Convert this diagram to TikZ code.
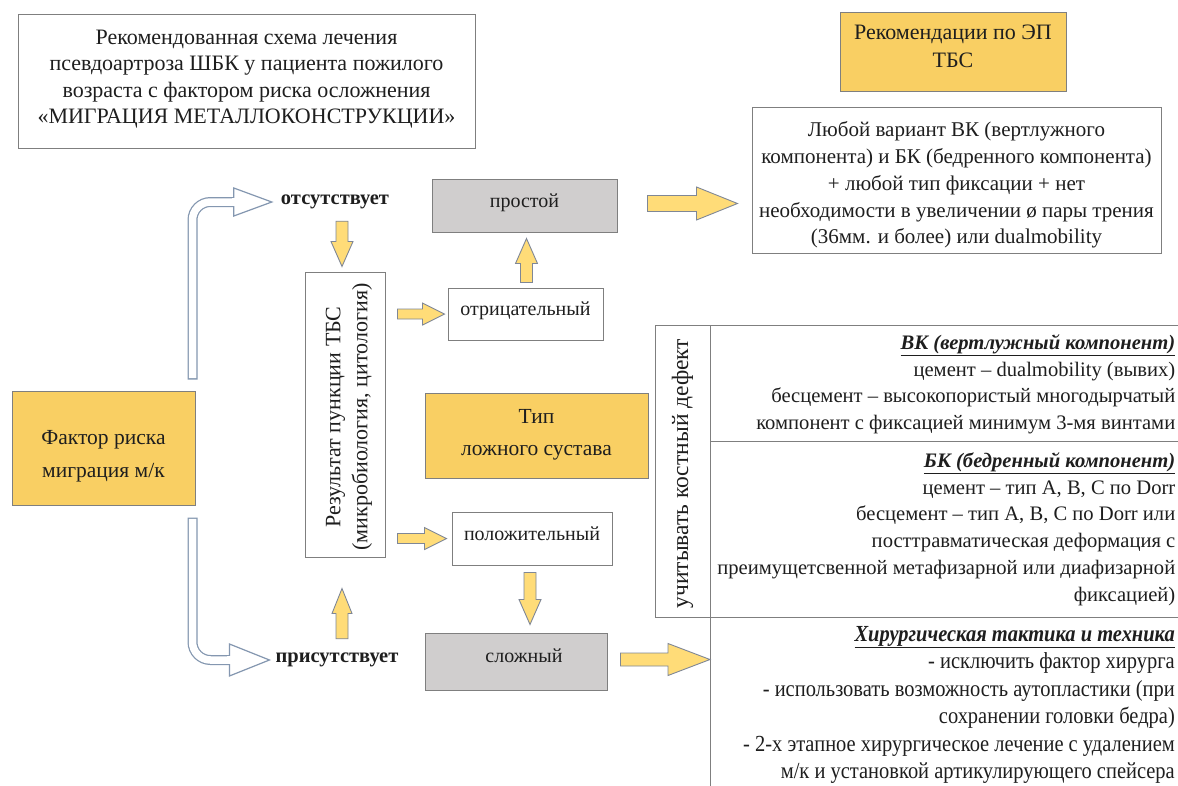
\documentclass[tikz,border=0pt]{standalone}
\usepackage{fontspec}
\setmainfont{Liberation Serif}
\newfontfamily\condfont[FakeStretch=0.89]{Liberation Serif}
\usetikzlibrary{calc}
\definecolor{ybox}{HTML}{F9CF63}
\definecolor{yarr}{HTML}{FFDC78}
\definecolor{garr}{HTML}{7F8796}
\definecolor{gbox}{HTML}{D0CECE}
\definecolor{bord}{HTML}{7F7F7F}
\definecolor{hblue}{HTML}{8497B0}
\definecolor{txt}{HTML}{1E1E1E}
\newcommand\myblockarrow[5]{%
  \path #1 coordinate (ba-t) #2 coordinate (ba-h);
  \path ($(ba-h)!#5!(ba-t)$) coordinate (ba-b);
  \draw[yarrow] ($(ba-t)!#3!90:(ba-h)$) -- ($(ba-b)!#3!90:(ba-h)$) -- ($(ba-b)!#4!90:(ba-h)$)
    -- (ba-h) -- ($(ba-b)!#4!-90:(ba-h)$) -- ($(ba-b)!#3!-90:(ba-h)$) -- ($(ba-t)!#3!-90:(ba-h)$) -- cycle;}
\newcommand\myhollow[4]{% start, head base, tip, head half
  \draw[hblue, line width=10pt, rounded corners=18pt] #1 |- #2;
  \draw[white, line width=7.5pt, rounded corners=18pt, shorten <=1.3pt] #1 |- #2;
  \draw[fill=white, draw=hblue, line width=1.2pt, line join=miter] ($#2+(0,-#4)$) -- #3 -- ($#2+(0,#4)$) -- cycle;
  \draw[white, line width=7.4pt] ($#2+(-2,0)$) -- ($#2+(1.4,0)$);}
\tikzset{
  box/.style={draw=bord, line width=1pt, inner sep=0pt},
  wbox/.style={box, fill=white},
  ybx/.style={box, fill=ybox},
  gbx/.style={box, fill=gbox},
  yarrow/.style={fill=yarr, draw=garr, line width=0.9pt, line join=miter},
  lbl/.style={inner sep=0pt, text=txt, align=center},
  fbig/.style={font=\fontsize{22}{26.5}\selectfont},
  fmid/.style={font=\fontsize{20}{26.5}\selectfont},
  ftab/.style={font=\fontsize{20.6}{26.7}\selectfont},
  fbold/.style={font=\fontsize{20.5}{24}\selectfont\bfseries},
}
\begin{document}
\begin{tikzpicture}[x=1pt,y=-1pt]
\useasboundingbox (0,0) rectangle (1178,785);
\fill[white] (0,0) rectangle (1178,785);

% header boxes
\node[wbox, minimum width=457pt, minimum height=134pt] (title) at (246.5,81) {};
\node[lbl, fbig] (title-t) at ($(title.center)+(0,-2)$)
  {Рекомендованная схема лечения\\псевдоартроза ШБК у пациента пожилого\\возраста с фактором риска осложнения\\«МИГРАЦИЯ МЕТАЛЛОКОНСТРУКЦИИ»};
\node[ybx, minimum width=226pt, minimum height=79pt] (rec) at (953,51.5) {};
\node[lbl, font=\fontsize{22}{28}\selectfont] (rec-t) at ($(rec.center)+(0,-5)$) {Рекомендации по ЭП\\ТБС};
\node[wbox, minimum width=409pt, minimum height=146pt] (big) at (956.5,180) {};
\node[lbl, font=\fontsize{21}{26.75}\selectfont] (big-t) at ($(big.center)+(0,5)$)
  {Любой вариант ВК (вертлужного\\компонента) и БК (бедренного компонента)\\+ любой тип фиксации + нет\\необходимости в увеличении ø пары трения\\(36мм. и более) или dualmobility};

% left
\node[ybx, minimum width=183pt, minimum height=114pt] (fak) at (103.5,448) {};
\node[lbl, font=\fontsize{21.5}{33}\selectfont] (fak-t) at ($(fak.center)+(0,8)$) {Фактор риска\\миграция м/к};
\node[lbl, fbold] (otsut) at (335,202) {отсутствует};
\node[lbl, fbold] (prisut) at (337,660) {присутствует};

% middle
\node[gbx, minimum width=185pt, minimum height=53pt] (prost) at (524.5,205.5) {};
\node[lbl, fmid] (prost-t) at ($(prost.center)+(0,-3)$) {простой};
\node[wbox, minimum width=155pt, minimum height=52pt] (otr) at (525.5,314) {};
\node[lbl, fmid] (otr-t) at ($(otr.center)+(0,-3)$) {отрицательный};
\node[wbox, minimum width=80pt, minimum height=285pt] (res) at (345,414.5) {};
\node[lbl, font=\fontsize{22}{27}\selectfont, rotate=90] (res-t) at ($(res.center)+(4,2.5)$)
  {Результат пункции ТБС\\(микробиология, цитология)};
\node[ybx, minimum width=223pt, minimum height=85pt] (tip) at (536.5,435.5) {};
\node[lbl, font=\fontsize{21.5}{32}\selectfont] (tip-t) at ($(tip.center)+(0,-1)$) {Тип\\ложного сустава};
\node[wbox, minimum width=160pt, minimum height=53pt] (pol) at (532,538.5) {};
\node[lbl, fmid] (pol-t) at ($(pol.center)+(0,-5)$) {положительный};
\node[gbx, minimum width=182pt, minimum height=57pt] (slozh) at (516,661.5) {};
\node[lbl, fmid] (slozh-t) at ($(slozh.center)+(8,-6)$) {сложный};

% right table
\node[wbox, minimum width=55pt, minimum height=292pt] (col) at (682.5,471) {};
\node[lbl, font=\fontsize{23.5}{26}\selectfont, rotate=90] (col-t) at ($(col.center)+(0,2.5)$) {учитывать костный дефект};
\node[wbox, minimum width=472pt, minimum height=116pt] (vk) at (946,383) {};
\node[wbox, minimum width=472pt, minimum height=176pt] (bk) at (946,529) {};
\node[lbl, ftab, anchor=north east, align=right] (vk-t) at ($(vk.north east)+(-7,10)$)
  {\underline{\textbf{\textit{ВК (вертлужный компонент)}}}\\цемент – dualmobility (вывих)\\бесцемент – высокопористый многодырчатый\\компонент с фиксацией минимум 3-мя винтами};
\node[lbl, ftab, anchor=north east, align=right] (bk-t) at ($(bk.north east)+(-7,12)$)
  {\underline{\textbf{\textit{БК (бедренный компонент)}}}\\цемент – тип А, В, С по Dorr\\бесцемент – тип А, В, С по Dorr или\\посттравматическая деформация с\\преимущетсвенной метафизарной или диафизарной\\фиксацией)};
\coordinate (hirtop) at (710,617);
\coordinate (hirbot) at (710,786);
\draw[draw=bord, line width=1pt] (hirtop) -- (hirbot);
\node[lbl, font=\condfont\fontsize{23}{27.5}\selectfont, anchor=north east, align=right] (hir-t) at ($(hirtop)+(465,9)$)
  {\underline{\textbf{\textit{Хирургическая тактика и техника}}}\\- исключить фактор хирурга\\- использовать возможность аутопластики (при\\сохранении головки бедра)\\- 2-х этапное хирургическое лечение с удалением\\м/к и установкой артикулирующего спейсера};

% hollow arrows
\myhollow{($(fak.north east)+(-3,-11)$)}{($(otsut.west)+(-47,0)$)}{($(otsut.west)+(-9,0)$)}{14}
\myhollow{($(fak.south east)+(-3,12)$)}{($(prisut.west)+(-46,0)$)}{($(prisut.west)+(-6,0)$)}{16}

% yellow block arrows
\myblockarrow{($(res.north |- otsut.south)+(-3,12)$)}{($(res.north)+(-3,-5)$)}{6pt}{11pt}{25pt}
\myblockarrow{($(res.east |- otr.west)+(12,0)$)}{($(otr.west)+(-3,0)$)}{5pt}{11pt}{22pt}
\myblockarrow{($(otr.north)+(1,-5)$)}{($(otr.north |- prost.south)+(1,6)$)}{6pt}{11pt}{25pt}
\myblockarrow{($(res.east |- pol.west)+(12,0)$)}{($(pol.west)+(-5,0)$)}{5pt}{11pt}{22pt}
\myblockarrow{($(pol.south)+(-2,7)$)}{($(pol.south |- slozh.north)+(-2,-8)$)}{6pt}{11pt}{25pt}
\myblockarrow{($(res.south |- prisut.north)+(-3,-14)$)}{($(res.south)+(-3,31)$)}{6pt}{10pt}{25pt}
\myblockarrow{($(prost.east)+(30,-2)$)}{($(big.west |- prost.east)+(-14,-2)$)}{8pt}{16.5pt}{41pt}
\myblockarrow{($(slozh.east)+(13,-2)$)}{($(hirtop |- slozh.east)+(0,-2)$)}{6.5pt}{16pt}{42pt}
\end{tikzpicture}
\end{document}
